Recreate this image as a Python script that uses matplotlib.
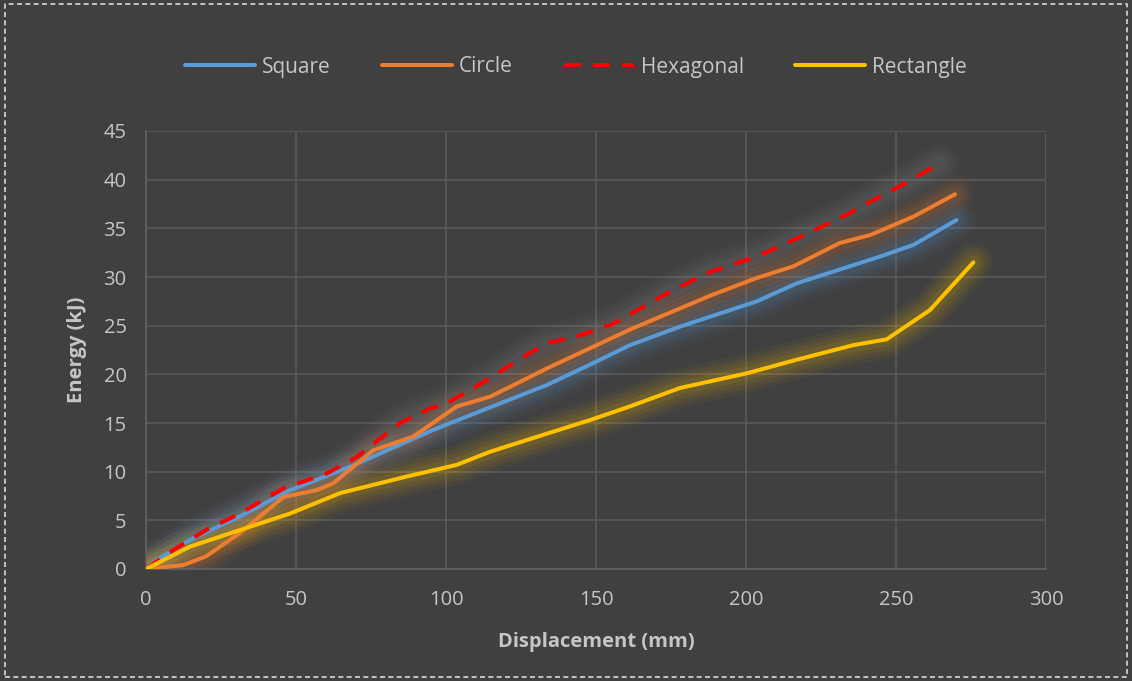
import matplotlib
matplotlib.use("Agg")
import matplotlib.pyplot as plt
from matplotlib.patches import Rectangle

square_x = [0, 3.6, 14.7, 31.3, 48, 68, 95.8, 111.3, 133.6, 148, 161.3, 178, 203.6, 216.9, 244.7, 255.8, 270.2]
square_y = [0, 0.9, 3.0, 5.4, 8.1, 10.5, 14.3, 16.2, 18.9, 21.0, 23.0, 24.9, 27.5, 29.35, 32.1, 33.3, 35.86]

circle_x = [0, 12.4, 20, 31.3, 45.8, 56.9, 62.4, 75.8, 89, 103.6, 114.7, 133.6, 161.3, 189, 203.6, 215.8, 231.3, 241.3, 255.8, 269.7]
circle_y = [0, 0.4, 1.3, 3.7, 7.4, 8.1, 8.8, 12.2, 13.6, 16.7, 17.7, 20.6, 24.6, 28.2, 29.9, 31.1, 33.5, 34.3, 36.2, 38.5]

hex_x = [0, 9.1, 20, 31.3, 45.8, 53.6, 60.2, 70.2, 84.7, 94.7, 100.2, 113.6, 124.7, 133.6, 144.7, 155.8, 173.6, 186.9, 194.7, 203.6, 215.8, 233.6, 243.6, 252.4, 264.7]
hex_y = [0, 1.95, 4.0, 5.7, 8.3, 9.1, 9.8, 11.5, 15.0, 16.5, 17.0, 19.4, 21.6, 23.2, 24.0, 25.2, 28.3, 30.4, 31.2, 32.1, 33.8, 36.4, 38.1, 39.5, 41.7]

rect_x = [0, 14.7, 31.3, 48, 64.7, 86.9, 103.6, 114.7, 133.6, 148, 161.3, 178, 200.2, 216.9, 235.8, 246.9, 261.3, 275.8]
rect_y = [0, 2.3, 4.0, 5.7, 7.8, 9.5, 10.7, 12.05, 13.9, 15.3, 16.7, 18.6, 20.1, 21.5, 23.0, 23.6, 26.6, 31.5]

x_ticks = [0, 50, 100, 150, 200, 250, 300]
y_ticks = [0, 5, 10, 15, 20, 25, 30, 35, 40, 45]

BG = "#404040"
TXT = "#c6c6c6"
GRID = "#5a5a5a"
FONT = ["Open Sans", "DejaVu Sans"]

plt.rcParams['font.family'] = FONT

fig = plt.figure(figsize=(11.32, 6.81), dpi=100, facecolor=BG)
ax = fig.add_axes([146/1132, 1 - 569/681, 900/1132, 438/681])
ax.set_facecolor(BG)

series = [
    ("Square", square_x, square_y, "#5b9bd5", "-", "#5b9bd5", 1.0),
    ("Circle", circle_x, circle_y, "#ed7d31", "-", "#ed7d31", 1.0),
    ("Hexagonal", hex_x, hex_y, "#ff0000", (0, (4.2, 3)), "#a0a0a0", 0.7),
    ("Rectangle", rect_x, rect_y, "#ffc000", "-", "#ffc000", 1.0),
]

handles = []
for name, xs, ys, col, ls, glow, k in series:
    for lw, a in [(28, 0.045), (22, 0.06), (16, 0.075), (10, 0.09)]:
        ax.plot(xs, ys, color=glow, lw=lw, alpha=a * k, solid_capstyle="round",
                solid_joinstyle="round", zorder=2)
for name, xs, ys, col, ls, glow, k in series:
    h, = ax.plot(xs, ys, color=col, lw=2.9, linestyle=ls, label=name,
                 solid_capstyle="round", solid_joinstyle="round",
                 dash_capstyle="butt", zorder=3)
    handles.append(h)

ax.set_xlim(0, 300)
ax.set_ylim(0, 45)
ax.set_xticks(x_ticks)
ax.set_yticks(y_ticks)
ax.grid(True, color=GRID, lw=1.2, zorder=1)
ax.set_axisbelow(True)
for s in ["top", "right"]:
    ax.spines[s].set_visible(False)
for s in ["left", "bottom"]:
    ax.spines[s].set_color("#626262")
    ax.spines[s].set_linewidth(1.2)
ax.tick_params(colors=TXT, labelsize=14.5, length=0)
ax.tick_params(axis="x", pad=15)
ax.tick_params(axis="y", pad=14)

ax.set_xlabel("Displacement (mm)", color=TXT, fontsize=14.5, fontweight="bold", labelpad=16)
ax.set_ylabel("Energy (kJ)", color=TXT, fontsize=14.5, fontweight="bold", labelpad=12)

leg = fig.legend(handles=handles, loc="center", bbox_to_anchor=(576/1132, 1 - 67/681),
                 ncol=4, frameon=False, fontsize=15, handlelength=3.36,
                 handletextpad=0.34, columnspacing=2.45, labelcolor=TXT)

fig.patches.append(Rectangle((0.004, 0.006), 0.992, 0.988, transform=fig.transFigure,
                             fill=False, edgecolor="#d8d8d8", lw=1.2,
                             linestyle=(0, (3, 2))))

fig.savefig("out.png", dpi=100, facecolor=BG)
